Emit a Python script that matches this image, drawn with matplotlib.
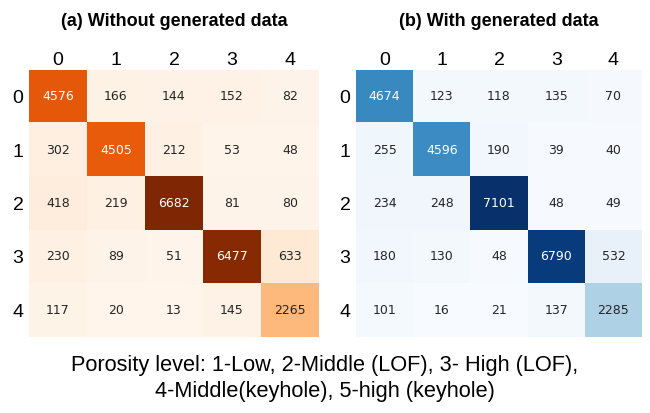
import matplotlib.pyplot as plt
import numpy as np

labels = ["0", "1", "2", "3", "4"]

cm_without = np.array([
    [4576, 166, 144, 152, 82],
    [302, 4505, 212, 53, 48],
    [418, 219, 6682, 81, 80],
    [230, 89, 51, 6477, 633],
    [117, 20, 13, 145, 2265],
])

cm_with = np.array([
    [4674, 123, 118, 135, 70],
    [255, 4596, 190, 39, 40],
    [234, 248, 7101, 48, 49],
    [180, 130, 48, 6790, 532],
    [101, 16, 21, 137, 2285],
])

titles = ["(a) Without generated data", "(b) With generated data"]
caption = "Porosity level: 1-Low, 2-Middle (LOF), 3- High (LOF),\n4-Middle(keyhole), 5-high (keyhole)"

fig = plt.figure(figsize=(6.5, 4.13), dpi=100)

ax1 = fig.add_axes([0.0446, 0.184, 0.446, 0.6465])
ax2 = fig.add_axes([0.5477, 0.184, 0.44, 0.6465])


def draw(ax, cm, cmap, title):
    vmax = cm.max()
    ax.imshow(cm, cmap=cmap, vmin=0, vmax=vmax, aspect="auto")
    cmo = plt.get_cmap(cmap)
    for i in range(cm.shape[0]):
        for j in range(cm.shape[1]):
            v = cm[i, j]
            rgb = cmo(v / vmax)[:3]
            lum = 0.299 * rgb[0] + 0.587 * rgb[1] + 0.114 * rgb[2]
            col = "white" if lum < 0.6 else "#262626"
            ax.text(j, i, str(v), ha="center", va="center", fontsize=9,
                    color=col, family="DejaVu Sans")
    ax.set_xticks(range(len(labels)))
    ax.set_yticks(range(len(labels)))
    ax.set_xticklabels(labels, fontsize=14, family="Liberation Sans")
    ax.set_yticklabels(labels, fontsize=14, family="Liberation Sans")
    ax.xaxis.tick_top()
    ax.tick_params(axis="x", length=0, pad=1)
    ax.tick_params(axis="y", length=0, pad=4)
    for s in ax.spines.values():
        s.set_visible(False)
    ax.set_title(title, fontsize=13, fontweight="bold", family="Liberation Sans", pad=32)


draw(ax1, cm_without, "Oranges", titles[0])
draw(ax2, cm_with, "Blues", titles[1])

fig.text(0.5, 0.084, caption, ha="center", va="center", fontsize=15.7,
         family="Liberation Sans", linespacing=1.3)

fig.savefig("out.png", dpi=100)
